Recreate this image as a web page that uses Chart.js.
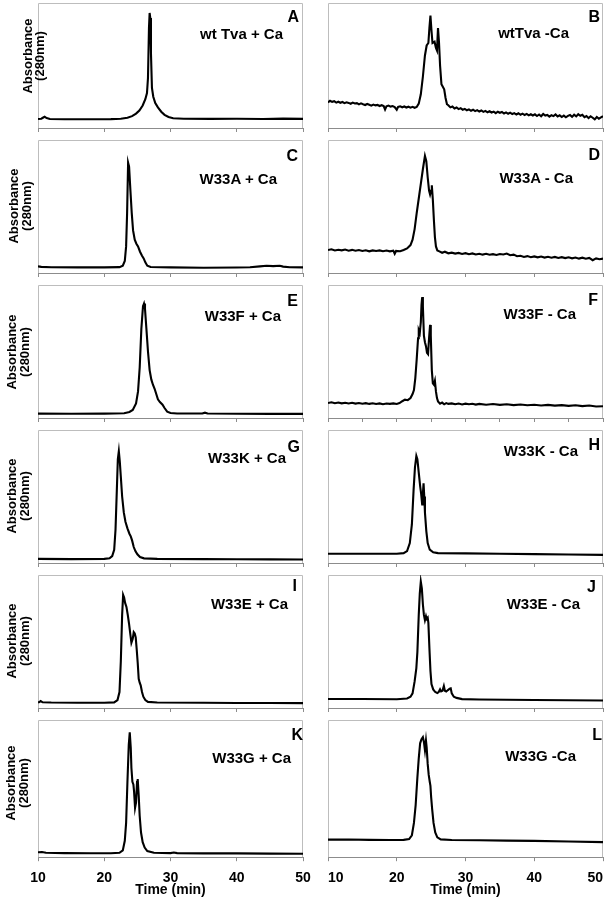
<!DOCTYPE html>
<html>
<head>
<meta charset="utf-8">
<script src="https://cdn.jsdelivr.net/npm/chart.js@4.4.1/dist/chart.umd.min.js"></script>
<style>
  html, body { margin: 0; padding: 0; background: #fff; }
  #fig { position: relative; width: 611px; height: 900px; overflow: hidden;
         font-family: 'Liberation Sans', Arial, sans-serif; color: #000; }
  #fig canvas { position: absolute; }
  .txt { position: absolute; font-weight: bold; white-space: nowrap; line-height: 1; }
  .ttl { font-size: 15px; transform: translateY(-50%); }
  .let { font-size: 16px; transform: translateY(-50%); }
  .ylab { font-size: 13px; transform: translate(-50%, -50%) rotate(-90deg); }
  .xlab { font-size: 14px; transform: translate(-50%, -50%); }
</style>
</head>
<body>
<div id="fig"></div>
<script>
// ── Data (time in min, absorbance in % of panel height) ─────────────────────
const xTickValues = [10, 20, 30, 40, 50];
const xTickLabels = ['10', '20', '30', '40', '50'];
const xTitle = 'Time (min)';
const yTitle = ['Absorbance', '(280nm)'];

const panelLetters = ['A', 'B', 'C', 'D', 'E', 'F', 'G', 'H', 'I', 'J', 'K', 'L'];
const panelTitles  = ['wt Tva + Ca', 'wtTva -Ca', 'W33A + Ca', 'W33A - Ca', 'W33F + Ca', 'W33F - Ca',
                      'W33K + Ca', 'W33K - Ca', 'W33E + Ca', 'W33E - Ca', 'W33G + Ca', 'W33G -Ca'];

const aTime = [10, 10.5, 10.8, 11.0, 11.3, 11.8, 14, 18, 21, 22.5, 23.5, 24.2, 24.8, 25.3, 25.8, 26.2, 26.45, 26.6, 26.75, 26.85, 26.95, 27.05, 27.2, 27.4, 27.7, 28.1, 28.6, 29.1, 29.7, 30.4, 32, 36, 40, 44, 47, 50];
const aAbs  = [7.2, 7.4, 8.4, 9.0, 7.9, 7.2, 7.0, 7.0, 7.1, 7.4, 8.2, 9.5, 11.5, 14, 18, 23, 28, 40, 80, 92, 88, 60, 32, 25, 20, 16.5, 13, 10.5, 8.8, 7.8, 7.4, 7.3, 7.4, 7.2, 7.5, 7.3];

const bTime = [10, 10.3, 10.6, 10.9, 11.2, 11.5, 11.8, 12.1, 12.4, 12.7, 13.0, 13.3, 13.6, 13.9, 14.2, 14.5, 14.8, 15.1, 15.4, 15.7, 16.0, 16.3, 16.6, 16.9, 17.2, 17.5, 17.8, 18.1, 18.3, 18.5, 18.8, 19.1, 19.4, 19.7, 20.0, 20.2, 20.5, 20.8, 21.1, 21.4, 21.7, 22.0, 22.3, 22.6, 22.9,
               23.2, 23.5, 23.8, 24.1, 24.35, 24.6, 24.75, 24.9, 25.05, 25.2, 25.5, 25.7, 25.85, 26.0, 26.15, 26.3, 26.5, 26.7, 26.9, 27.1, 27.3, 27.5,
               27.8, 28.1, 28.4, 28.7, 29.0, 29.3, 29.6, 29.9, 30.2, 30.5, 30.8, 31.1, 31.4, 31.7, 32.0, 32.3, 32.6, 32.9, 33.2, 33.5, 33.8, 34.1, 34.4, 34.7, 35.0, 35.3, 35.6, 35.9, 36.2, 36.5, 36.8, 37.1, 37.4, 37.7, 38.0, 38.3, 38.6, 38.9, 39.2, 39.5, 39.8,
               40.1, 40.4, 40.7, 41.0, 41.3, 41.6, 41.9, 42.2, 42.5, 42.8, 43.1, 43.4, 43.7, 44.0, 44.3, 44.6, 44.9, 45.2, 45.5, 45.8, 46.1, 46.4, 46.7, 47.0, 47.3, 47.6, 47.9, 48.2, 48.5, 48.8, 49.1, 49.4, 49.7, 50.0];
const bAbs  = [20.5, 21.8, 20.9, 21.4, 20.3, 21.0, 20.2, 20.8, 19.9, 20.6, 20.1, 19.4, 20.3, 19.6, 19.9, 18.9, 19.7, 19.0, 18.4, 19.2, 18.6, 17.9, 18.7, 18.1, 18.5, 17.6, 18.2, 17.5, 14.8, 17.3, 17.9, 17.1, 17.6, 16.8, 14.6, 16.9, 17.4, 16.6, 17.2, 16.4, 17.0, 16.3, 16.9, 16.2, 16.8,
               19.5, 27, 41, 58, 66, 68, 80, 90, 78, 68, 69, 64, 62, 80, 68, 50, 35, 33, 31, 24, 19, 18.2,
               16.5, 17.2, 15.6, 16.4, 15.1, 15.9, 14.6, 15.3, 14.2, 14.9, 13.8, 14.6, 13.5, 14.3, 13.2, 14.0, 12.9, 13.7, 12.6, 13.4, 12.4, 13.1, 11.9, 13.0, 12.2, 12.8, 11.6, 12.5, 11.4, 12.3, 11.2, 11.9, 10.8, 11.8, 10.6, 11.5, 10.4, 11.3, 10.1, 11.0, 10.0,
               10.9, 9.6, 10.8, 9.4, 11.2, 9.9, 10.4, 9.1, 10.2, 9.5, 10.8, 9.2, 10.1, 8.8, 9.9, 8.6, 9.7, 10.4, 8.9, 10.6, 9.3, 11.0, 9.8, 10.5, 8.7, 9.6, 7.9, 9.4, 8.2, 6.9, 8.8, 7.4, 8.5, 9.4];

const cTime = [10, 10.5, 12, 16, 20, 22.3, 22.8, 23.1, 23.3, 23.45, 23.6, 23.75, 23.95, 24.15, 24.35, 24.6, 24.85, 25.1, 25.4, 25.7, 25.95, 26.2, 26.5, 27, 30, 35, 40, 42, 43.5, 44.5, 45.5, 46.5, 47, 48, 50];
const cAbs  = [5.0, 4.6, 4.3, 4.2, 4.2, 4.4, 5.5, 9, 20, 45, 83, 80, 62, 45, 32, 25, 22, 20, 16, 13, 11, 8, 5.5, 4.5, 4.2, 4.0, 4.1, 4.3, 5.0, 5.4, 5.2, 5.5, 4.8, 4.3, 4.2];

const dTime = [10, 10.5, 11, 11.5, 12, 12.5, 13, 13.5, 14, 14.5, 15, 15.5, 16, 16.5, 17, 17.5, 18, 18.5, 19, 19.5, 19.7, 19.9, 20.5, 21, 21.5, 22, 22.3, 22.6, 22.9, 23.2, 23.5, 23.8, 24.1, 24.3, 24.5, 24.7, 24.85, 25.0, 25.1, 25.25, 25.4, 25.55, 25.7, 25.9, 26.2, 26.6, 27, 27.5,
               28, 28.5, 29, 29.5, 30, 30.5, 31, 31.5, 32, 32.5, 33, 33.5, 34, 34.5, 35, 35.5, 36, 36.5, 37, 37.5, 38, 38.5, 39, 39.5, 40, 40.5, 41, 41.5, 42, 42.5, 43, 43.5, 44, 44.5, 45, 45.5, 46, 46.5, 47, 47.5, 48, 48.5, 49, 49.5, 50];
const dAbs  = [17.3, 17.8, 16.9, 17.5, 17.0, 17.6, 16.8, 17.4, 16.7, 17.3, 16.6, 17.1, 16.3, 17.0, 16.5, 17.0, 16.4, 16.9, 16.3, 16.8, 14.5, 16.6, 16.4, 17.3, 18.5, 21, 25, 33, 45, 56, 67, 78, 88, 84, 72, 62, 59, 62, 66, 55, 40, 27, 20, 17, 16.3, 15.2, 16.0, 14.8,
               15.3, 14.6, 15.1, 14.3, 14.9, 14.1, 14.7, 13.9, 14.5, 13.8, 14.4, 13.7, 14.2, 13.6, 14.3, 13.9, 14.6, 13.4, 13.8, 12.6, 13.0, 12.1, 12.7, 11.9, 12.5, 11.8, 12.4, 11.6, 12.2, 11.5, 12.1, 11.3, 11.9, 11.2, 11.8, 11.0, 11.6, 10.8, 11.5, 10.7, 11.3, 9.6, 11.0, 10.4, 10.8];

const eTime = [10, 15, 20, 23, 23.8, 24.3, 24.8, 25.1, 25.35, 25.6, 25.85, 26.0, 26.15, 26.35, 26.6, 26.85, 27.1, 27.35, 27.6, 27.85, 28.1, 28.4, 28.8, 29.1, 29.5, 30.0, 31, 34.8, 35.2, 35.6, 40, 45, 50];
const eAbs  = [3.3, 3.2, 3.3, 3.6, 4.5, 6, 11, 20, 38, 67, 84, 86, 82, 68, 50, 36, 29, 25, 22, 18, 14, 12, 10, 7.5, 4.8, 3.8, 3.4, 3.4, 4.0, 3.4, 3.2, 3.1, 3.1];

const fTime = [10, 10.5, 11, 11.5, 12, 12.5, 13, 13.5, 14, 14.5, 15, 15.5, 16, 16.5, 17, 17.5, 18, 18.5, 19, 19.5, 20, 20.4, 20.8, 21.2, 21.6, 22.0, 22.3, 22.5, 22.7, 22.9, 23.1, 23.2, 23.35, 23.5, 23.6, 23.7, 23.8, 23.95, 24.1, 24.25, 24.4, 24.55, 24.7, 24.85, 24.95,
               25.1, 25.25, 25.4, 25.55, 25.7, 25.85, 26.0, 26.3, 26.6, 26.9, 27.2, 27.5, 28, 28.5, 29, 29.5, 30, 30.5, 31, 31.5, 32, 33, 34, 35, 36, 37, 38, 39, 40, 41, 42, 43, 44, 45, 46, 47, 48, 49, 50];
const fAbs  = [11.3, 11.8, 11.1, 11.6, 11.0, 11.5, 10.9, 11.4, 10.8, 11.3, 10.7, 11.2, 10.6, 11.1, 10.5, 11.0, 10.4, 10.9, 10.6, 11.0, 10.5, 11.2, 12.6, 13.8, 13.4, 15.0, 18, 21, 30, 44, 60, 66, 64, 72, 85, 91, 84, 62, 57, 54, 49, 48, 60, 70, 62,
               36, 26, 25, 28, 20, 15, 12.5, 10.8, 11.6, 10.3, 11.2, 10.6, 11.0, 10.4, 10.9, 10.2, 10.8, 10.3, 10.7, 10.1, 10.6, 10.0, 10.5, 9.9, 10.3, 9.7, 10.2, 9.6, 10.0, 9.4, 9.9, 9.3, 9.7, 9.1, 9.6, 8.9, 9.4, 8.7, 8.8];

const gTime = [10, 15, 20, 20.8, 21.2, 21.5, 21.7, 21.9, 22.05, 22.2, 22.35, 22.5, 22.7, 22.95, 23.2, 23.5, 23.8, 24.0, 24.2, 24.45, 24.7, 25.0, 25.4, 26, 28, 35, 40, 45, 50];
const gAbs  = [3.1, 2.9, 3.1, 3.5, 5.2, 10, 25, 55, 78, 84, 76, 65, 50, 38, 31, 26, 22, 20, 17, 12, 9, 6.5, 4.5, 3.5, 3.1, 2.9, 2.8, 2.7, 2.6];

const hTime = [10, 15, 20, 21.0, 21.5, 21.9, 22.2, 22.45, 22.65, 22.85, 23.0, 23.2, 23.4, 23.55, 23.7, 23.8, 23.9, 24.0, 24.1, 24.3, 24.5, 24.8, 25.3, 26, 30, 35, 40, 45, 50];
const hAbs  = [7.0, 7.0, 7.0, 7.4, 9, 15, 29, 55, 72, 80.5, 78, 68, 58, 52, 44, 52, 60, 50, 38, 24, 15, 10, 8, 7.4, 7.2, 7.0, 6.7, 6.4, 6.1];

const iTime = [10, 10.2, 10.4, 10.7, 12, 16, 20, 21.5, 22.0, 22.3, 22.5, 22.7, 22.85, 23.0, 23.15, 23.35, 23.55, 23.75, 23.95, 24.1, 24.3, 24.45, 24.6, 24.75, 24.9, 25.05, 25.2, 25.35, 25.5, 25.7, 25.9, 26.2, 26.6, 28, 35, 40, 45, 50];
const iAbs  = [4.1, 4.5, 5.2, 4.3, 4.1, 4.0, 4.0, 4.2, 6, 12, 35, 70, 85, 83, 79, 76, 70, 63, 55, 49, 52, 57, 56, 53, 44, 34, 22, 19, 17, 12, 8.5, 6, 4.6, 4.1, 3.9, 3.8, 3.8, 3.7];

const jTime = [10, 15, 20, 21.5, 22.0, 22.3, 22.6, 22.85, 23.0, 23.2, 23.35, 23.5, 23.65, 23.8, 23.95, 24.1, 24.25, 24.35, 24.5, 24.6, 24.75, 24.9, 25.05, 25.3, 25.6, 25.9, 26.1, 26.3, 26.45, 26.65, 26.85, 27.0, 27.2, 27.45, 27.7, 27.85, 28.0, 28.3, 28.7, 29.5, 32, 36, 40, 45, 50];
const jAbs  = [6.8, 6.8, 6.6, 7.2, 8.5, 11, 20, 30, 42, 70, 86, 95, 90, 78, 70, 66, 69, 67, 68, 64, 45, 28, 18, 14, 12, 11.2, 12, 14, 12.5, 13, 16.5, 13, 12.4, 13.5, 14.5, 14.8, 11, 8.5, 7.6, 6.7, 6.4, 6.2, 6.0, 5.8, 5.6];

const kTime = [10, 10.6, 11.2, 14, 18, 21, 22.3, 22.8, 23.1, 23.3, 23.5, 23.7, 23.85, 24.0, 24.1, 24.25, 24.4, 24.5, 24.65, 24.8, 24.95, 25.05, 25.2, 25.35, 25.55, 25.8, 26.1, 26.5, 27.5, 30, 30.5, 31, 35, 40, 45, 50];
const kAbs  = [3.6, 3.8, 3.2, 3.0, 2.9, 2.9, 3.2, 5, 12, 25, 55, 82, 91, 80, 65, 55, 53, 48, 36, 40, 55, 57, 45, 30, 18, 11, 7, 4.5, 3.2, 3.0, 3.4, 3.0, 2.8, 2.8, 2.6, 2.5];

const lTime = [10, 13, 16, 19, 21, 21.8, 22.2, 22.5, 22.75, 23.0, 23.2, 23.4, 23.6, 23.8, 23.95, 24.1, 24.25, 24.35, 24.5, 24.65, 24.8, 24.9, 25.0, 25.15, 25.35, 25.6, 25.9, 26.4, 28, 32, 36, 40, 45, 50];
const lAbs  = [12.8, 12.9, 12.6, 12.5, 12.6, 13.2, 16, 25, 38, 58, 72, 83, 86, 87.5, 84, 78, 85, 80, 68, 60, 55, 52, 44, 35, 25, 18, 14.5, 13.0, 12.5, 12.3, 12.1, 11.9, 11.4, 11.0];

const series = [
  [aTime, aAbs], [bTime, bAbs], [cTime, cAbs], [dTime, dAbs], [eTime, eAbs], [fTime, fAbs],
  [gTime, gAbs], [hTime, hAbs], [iTime, iAbs], [jTime, jAbs], [kTime, kAbs], [lTime, lAbs],
];

// ── Layout ──────────────────────────────────────────────────────────────────
const COL_X    = [38, 328];
const COL_W    = [265, 275];
const ROW_AXIS = [128, 273, 418, 563, 708, 853];
const ROW_TOP  = [3, 140, 285, 430, 575, 720];
const PAD      = 24;   // wider than any half tick label + tick padding, so the box stays put
const TICK_LEN = 4;

// [title right edge, title centre y, letter right edge, letter centre y]
const labelPos = [
  [283, 33, 299, 17],  [569, 32, 600, 17],
  [277, 178, 298, 156], [573, 177, 600, 155],
  [281, 315, 298, 301], [576, 313, 598, 300],
  [286, 457, 300, 447], [578, 450, 600, 445],
  [288, 603, 297, 586], [580, 603, 596, 587],
  [291, 757, 303, 735], [576, 755, 602, 735],
];
// x centres of "Absorbance" and "(280nm)", centre y, per row
const yLabPos = [[27, 39, 56], [13, 26, 206], [11, 24, 352], [11, 24, 496], [11, 24, 641], [10, 23, 783]];

const FONT = "'Liberation Sans', Arial, sans-serif";
const fig = document.getElementById('fig');

function addText(cls, text, css) {
  const d = document.createElement('div');
  d.className = 'txt ' + cls;
  d.textContent = text;
  Object.assign(d.style, css);
  fig.appendChild(d);
}

const boxPlugin = {
  id: 'panelBox',
  beforeDatasetsDraw(chart) {
    const { ctx, chartArea: { left, right, top, bottom } } = chart;
    ctx.save();
    ctx.strokeStyle = '#bdbdbd';
    ctx.lineWidth = 1;
    ctx.beginPath();
    ctx.moveTo(left + 0.5, bottom);
    ctx.lineTo(left + 0.5, top + 0.5);
    ctx.lineTo(right - 0.5, top + 0.5);
    ctx.lineTo(right - 0.5, bottom);
    ctx.stroke();
    ctx.restore();
  },
};

series.forEach(([times, abs], i) => {
  const row = Math.floor(i / 2), col = i % 2;
  const isBottom = row === ROW_AXIS.length - 1;
  const bx = COL_X[col], bw = COL_W[col];
  const top = ROW_TOP[row], axis = ROW_AXIS[row];

  const cv = document.createElement('canvas');
  const cw = bw + 2 * PAD;
  const ch = (axis - top) + 3 + TICK_LEN + (isBottom ? 39 : 0);
  cv.width = cw; cv.height = ch;
  cv.style.left = (bx - PAD) + 'px';
  cv.style.top = (top - 3) + 'px';
  fig.appendChild(cv);

  new Chart(cv, {
    type: 'line',
    data: {
      datasets: [{
        data: times.map((t, k) => ({ x: t, y: abs[k] })),
        borderColor: '#000', borderWidth: 2.1, pointRadius: 0, tension: 0,
      }],
    },
    options: {
      responsive: false, animation: false, events: [],
      layout: { padding: { left: PAD, right: PAD, top: 3, bottom: 0 } },
      plugins: { legend: { display: false }, tooltip: { enabled: false } },
      scales: {
        x: {
          type: 'linear', min: 10, max: 50,
          afterBuildTicks: s => {
            s.ticks = panelLetters[i] === 'F'
              ? [10, 15, 20, 25, 30, 35, 40, 45, 50].map(v => ({ value: v }))
              : xTickValues.map(v => ({ value: v }));
          },
          ticks: {
            display: isBottom, padding: 9, color: '#000', align: col === 1 ? 'inner' : 'center',
            maxRotation: 0, autoSkip: false,
            font: { family: FONT, size: 14, weight: 'bold' },
            callback: v => xTickLabels[xTickValues.indexOf(v)] ?? '',
          },
          grid: { drawOnChartArea: false, drawTicks: true, tickLength: TICK_LEN, color: '#8c8c8c' },
          border: { display: true, color: '#8c8c8c', width: 1 },
        },
        y: { display: false, min: 0, max: 100 },
      },
    },
    plugins: [boxPlugin],
  });

  const [tr, ty, lr, ly] = labelPos[i];
  addText('ttl', panelTitles[i], { right: (611 - tr) + 'px', top: ty + 'px' });
  addText('let', panelLetters[i], { right: (611 - lr) + 'px', top: ly + 'px' });

  if (col === 0) {
    const [x1, x2, yc] = yLabPos[row];
    addText('ylab', yTitle[0], { left: x1 + 'px', top: yc + 'px' });
    addText('ylab', yTitle[1], { left: x2 + 'px', top: yc + 'px' });
  }
  if (isBottom) {
    addText('xlab', xTitle, { left: (bx + bw / 2) + 'px', top: '889px' });
  }
});
</script>
</body>
</html>
